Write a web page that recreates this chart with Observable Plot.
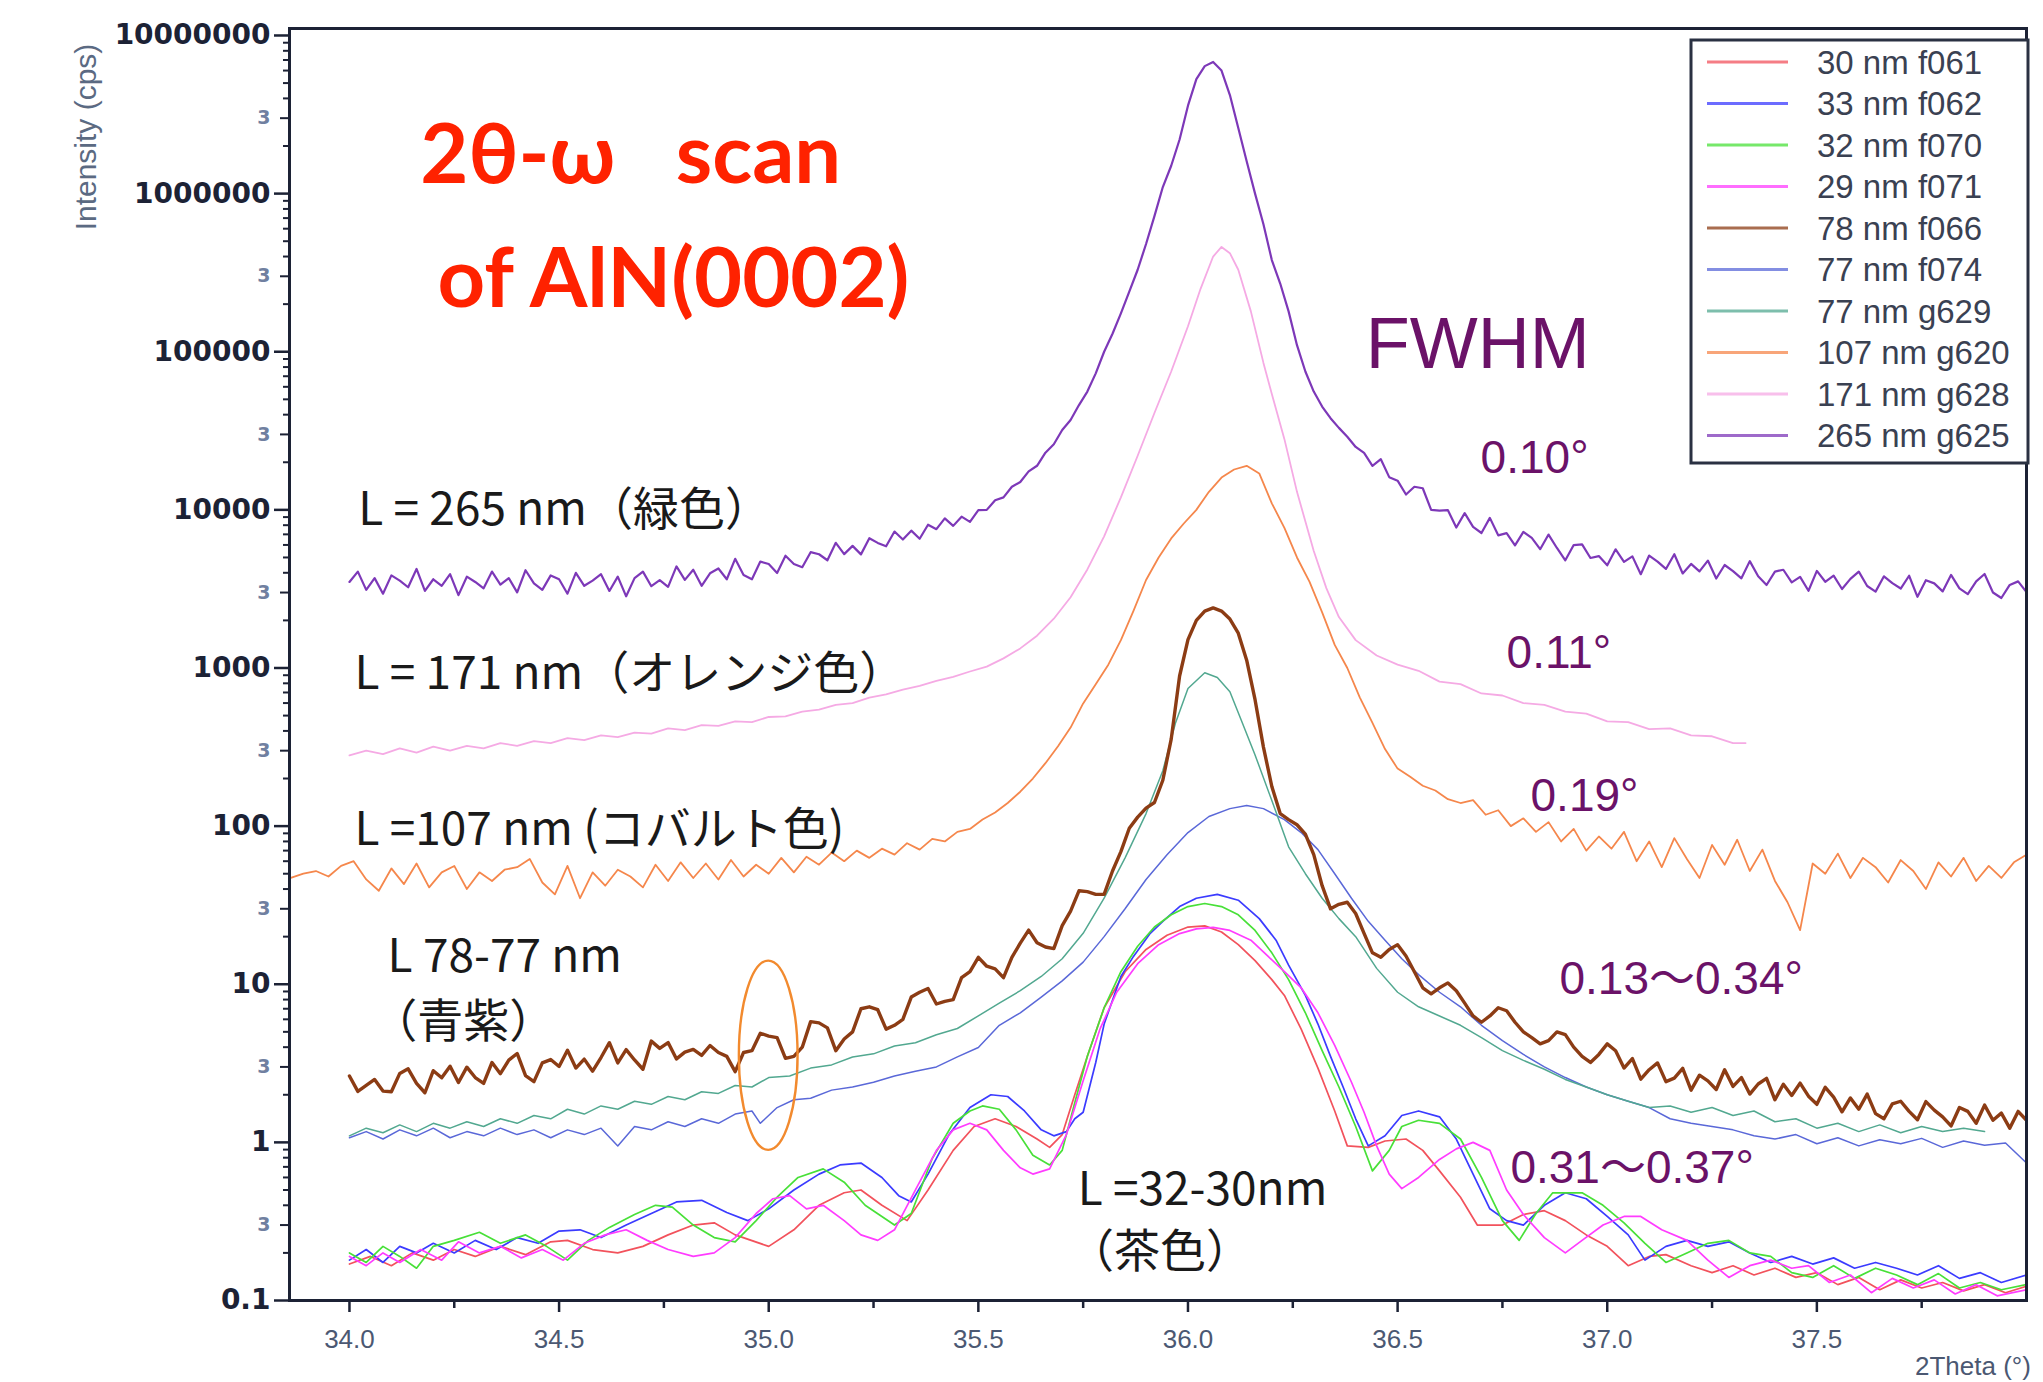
<!DOCTYPE html>
<html><head><meta charset="utf-8">
<script src="https://cdn.jsdelivr.net/npm/d3@7"></script>
<script src="https://cdn.jsdelivr.net/npm/@observablehq/plot@0.6"></script>
<style>
html,body{margin:0;padding:0;background:#fff;}
#chart{width:2043px;height:1382px;}
svg{display:block}
</style></head><body><div id="chart"></div>
<script>
// ---------- series (2θ in degrees, intensity in cps) ----------
const seriesNames = ["30 nm f061","33 nm f062","32 nm f070","29 nm f071","78 nm f066","77 nm f074","77 nm g629","107 nm g620","171 nm g628","265 nm g625"];

const f061 = [[34.00,0.17],[34.05,0.19],[34.10,0.166],[34.15,0.20],[34.20,0.18],[34.25,0.21],[34.30,0.19],[34.36,0.22],[34.42,0.195],[34.48,0.235],[34.52,0.24],[34.58,0.21],[34.64,0.20],[34.70,0.22],[34.76,0.26],[34.82,0.30],[34.87,0.31],[34.92,0.26],[35.00,0.22],[35.06,0.28],[35.12,0.40],[35.18,0.48],[35.22,0.50],[35.27,0.40],[35.33,0.32],[35.38,0.50],[35.44,0.89],[35.49,1.26],[35.54,1.41],[35.59,1.26],[35.64,1.05],[35.67,0.93],[35.70,1.12],[35.73,2.0],[35.76,3.5],[35.80,7.1],[35.85,12],[35.90,16.6],[35.95,20.4],[36.00,23],[36.04,23.4],[36.08,21.4],[36.12,17.8],[36.16,14.1],[36.20,10.7],[36.23,8.5],[36.27,5.2],[36.31,2.95],[36.35,1.58],[36.38,0.95],[36.43,0.93],[36.47,1.02],[36.52,1.05],[36.56,0.89],[36.60,0.66],[36.65,0.45],[36.69,0.30],[36.75,0.30],[36.80,0.35],[36.85,0.37],[36.90,0.32],[36.95,0.26],[37.00,0.22],[37.05,0.166],[37.10,0.19],[37.14,0.195],[37.20,0.166],[37.25,0.15],[37.30,0.166],[37.35,0.145],[37.40,0.16],[37.45,0.14],[37.50,0.15],[37.55,0.126],[37.60,0.14],[37.65,0.117],[37.70,0.135],[37.75,0.12],[37.80,0.13],[37.85,0.115],[37.90,0.126],[37.95,0.112],[38.00,0.123]];

const f062 = [[34.00,0.18],[34.04,0.21],[34.08,0.174],[34.12,0.22],[34.16,0.20],[34.20,0.23],[34.25,0.20],[34.30,0.24],[34.35,0.21],[34.40,0.25],[34.45,0.23],[34.50,0.275],[34.55,0.28],[34.60,0.25],[34.66,0.30],[34.72,0.355],[34.78,0.42],[34.84,0.43],[34.90,0.36],[34.95,0.32],[35.00,0.38],[35.06,0.50],[35.12,0.63],[35.17,0.72],[35.22,0.74],[35.27,0.60],[35.31,0.46],[35.34,0.42],[35.38,0.63],[35.43,1.12],[35.48,1.66],[35.53,2.0],[35.57,1.95],[35.61,1.58],[35.65,1.2],[35.68,1.1],[35.71,1.17],[35.73,1.41],[35.75,1.55],[35.78,3.2],[35.80,5.6],[35.84,11.2],[35.87,15],[35.91,21],[35.94,25],[35.98,31],[36.02,35],[36.07,37],[36.12,34],[36.17,26],[36.21,19],[36.24,13.2],[36.28,8.5],[36.31,5.6],[36.34,3.5],[36.37,2.24],[36.40,1.41],[36.43,0.95],[36.47,1.1],[36.51,1.48],[36.55,1.58],[36.60,1.45],[36.64,1.05],[36.68,0.63],[36.72,0.38],[36.76,0.32],[36.80,0.30],[36.85,0.40],[36.90,0.48],[36.95,0.44],[37.00,0.34],[37.05,0.26],[37.09,0.18],[37.14,0.22],[37.19,0.24],[37.24,0.22],[37.29,0.235],[37.34,0.20],[37.39,0.174],[37.44,0.19],[37.49,0.17],[37.54,0.186],[37.59,0.16],[37.64,0.174],[37.69,0.16],[37.74,0.145],[37.79,0.166],[37.84,0.138],[37.89,0.15],[37.94,0.13],[38.00,0.145]];

const f070 = [[34.00,0.20],[34.04,0.174],[34.08,0.22],[34.12,0.19],[34.16,0.16],[34.20,0.22],[34.25,0.24],[34.31,0.27],[34.36,0.23],[34.42,0.26],[34.47,0.22],[34.52,0.18],[34.57,0.24],[34.62,0.29],[34.68,0.35],[34.73,0.40],[34.77,0.39],[34.82,0.30],[34.87,0.25],[34.92,0.235],[34.97,0.32],[35.02,0.45],[35.07,0.60],[35.13,0.68],[35.18,0.56],[35.23,0.40],[35.30,0.30],[35.34,0.355],[35.39,0.79],[35.44,1.32],[35.48,1.58],[35.51,1.7],[35.55,1.62],[35.59,1.2],[35.63,0.83],[35.67,0.72],[35.70,0.89],[35.73,1.78],[35.76,3.5],[35.80,7.1],[35.84,12],[35.88,17.4],[35.92,23],[35.96,27.5],[36.00,31],[36.04,32.4],[36.08,31],[36.12,27.5],[36.16,21.9],[36.20,15.8],[36.24,10.7],[36.28,6.6],[36.32,3.8],[36.36,2.24],[36.40,1.26],[36.44,0.66],[36.48,0.89],[36.51,1.26],[36.55,1.38],[36.60,1.32],[36.65,1.05],[36.70,0.60],[36.75,0.32],[36.79,0.24],[36.83,0.355],[36.87,0.48],[36.94,0.48],[36.99,0.40],[37.04,0.31],[37.09,0.23],[37.14,0.174],[37.19,0.20],[37.24,0.23],[37.29,0.24],[37.34,0.20],[37.39,0.19],[37.44,0.15],[37.49,0.14],[37.54,0.166],[37.59,0.138],[37.64,0.16],[37.69,0.145],[37.74,0.126],[37.79,0.148],[37.84,0.12],[37.89,0.13],[37.94,0.117],[38.00,0.126]];

const f071 = [[34.00,0.19],[34.04,0.166],[34.08,0.20],[34.12,0.174],[34.17,0.21],[34.22,0.18],[34.26,0.235],[34.31,0.20],[34.36,0.22],[34.41,0.186],[34.46,0.21],[34.51,0.18],[34.56,0.23],[34.61,0.26],[34.66,0.28],[34.71,0.24],[34.76,0.21],[34.82,0.19],[34.87,0.20],[34.92,0.25],[34.97,0.355],[35.01,0.44],[35.05,0.46],[35.09,0.38],[35.13,0.40],[35.18,0.32],[35.22,0.26],[35.26,0.24],[35.30,0.28],[35.35,0.50],[35.40,0.89],[35.44,1.2],[35.48,1.32],[35.52,1.2],[35.56,0.89],[35.60,0.69],[35.63,0.63],[35.67,0.68],[35.71,1.12],[35.75,2.45],[35.79,5.2],[35.83,8.9],[35.88,13.5],[35.93,17.8],[35.98,20.9],[36.02,22.4],[36.06,22.9],[36.10,21.9],[36.15,19],[36.19,15.1],[36.23,12],[36.27,9.5],[36.31,6.6],[36.35,4.1],[36.39,2.4],[36.42,1.55],[36.45,0.95],[36.48,0.63],[36.51,0.51],[36.55,0.60],[36.60,0.78],[36.64,0.91],[36.68,1.0],[36.72,0.89],[36.76,0.50],[36.80,0.35],[36.85,0.25],[36.90,0.20],[36.94,0.24],[36.99,0.30],[37.04,0.34],[37.08,0.34],[37.13,0.28],[37.19,0.24],[37.24,0.18],[37.29,0.14],[37.34,0.166],[37.39,0.18],[37.44,0.16],[37.48,0.166],[37.53,0.13],[37.58,0.145],[37.63,0.112],[37.68,0.138],[37.73,0.12],[37.78,0.135],[37.83,0.11],[37.88,0.126],[37.93,0.107],[38.00,0.117]];

const f066 = [[34.00,2.63],[34.02,2.10],[34.04,2.29],[34.06,2.50],[34.08,2.11],[34.10,2.09],[34.12,2.73],[34.14,2.92],[34.16,2.36],[34.18,2.06],[34.20,2.84],[34.22,2.56],[34.24,3.03],[34.26,2.39],[34.28,2.99],[34.30,2.57],[34.32,2.36],[34.34,3.20],[34.36,2.72],[34.38,3.31],[34.40,3.65],[34.42,2.64],[34.44,2.42],[34.46,3.18],[34.48,3.34],[34.50,3.02],[34.52,3.83],[34.54,2.95],[34.56,3.36],[34.58,2.82],[34.60,3.44],[34.62,4.27],[34.64,3.18],[34.66,3.86],[34.68,3.32],[34.70,2.90],[34.72,4.37],[34.74,3.93],[34.76,4.28],[34.78,3.37],[34.80,3.72],[34.82,3.87],[34.84,3.55],[34.86,4.1],[34.88,3.7],[34.90,3.5],[34.92,2.8],[34.94,3.7],[34.96,3.8],[34.98,4.9],[35.00,4.7],[35.02,4.6],[35.04,3.4],[35.06,3.5],[35.08,4.0],[35.10,5.8],[35.12,5.7],[35.14,5.3],[35.16,3.8],[35.18,4.5],[35.20,5.0],[35.22,7.0],[35.24,7.2],[35.26,6.9],[35.28,5.2],[35.30,5.5],[35.32,6.0],[35.34,8.3],[35.36,8.9],[35.38,9.4],[35.40,7.5],[35.42,7.8],[35.44,8.0],[35.46,11.0],[35.48,12.0],[35.50,14.8],[35.52,13.0],[35.54,12.5],[35.56,11.0],[35.58,14.8],[35.60,18.2],[35.62,22],[35.64,18.3],[35.66,17.2],[35.68,16.8],[35.70,23.5],[35.72,29],[35.74,39],[35.76,38.5],[35.78,37],[35.80,37],[35.82,52],[35.84,69],[35.86,97],[35.88,114],[35.90,130],[35.92,141],[35.94,195],[35.96,355],[35.98,890],[36.00,1510],[36.02,2000],[36.04,2290],[36.06,2400],[36.08,2290],[36.10,2040],[36.12,1660],[36.14,1120],[36.16,630],[36.18,316],[36.20,178],[36.22,120],[36.24,110],[36.26,102],[36.28,89],[36.30,66],[36.32,42],[36.34,30],[36.36,32],[36.38,33],[36.40,28],[36.42,21],[36.44,15.8],[36.46,14.8],[36.48,16.6],[36.50,17.8],[36.52,15.1],[36.54,12.0],[36.56,9.5],[36.58,8.7],[36.60,9.5],[36.62,10.2],[36.64,9.1],[36.66,7.6],[36.68,6.3],[36.70,5.75],[36.72,6.3],[36.74,7.1],[36.76,6.8],[36.78,5.75],[36.80,5.0],[36.82,4.6],[36.84,4.2],[36.86,4.4],[36.88,5.0],[36.90,4.8],[36.92,4.0],[36.94,3.5],[36.96,3.2],[36.98,3.6],[37.00,4.2],[37.02,3.8],[37.04,2.95],[37.06,3.39],[37.08,2.51],[37.10,2.88],[37.12,3.18],[37.14,2.42],[37.16,2.55],[37.18,2.94],[37.20,2.14],[37.22,2.66],[37.24,2.45],[37.26,2.16],[37.28,2.88],[37.30,2.26],[37.32,2.57],[37.34,2.02],[37.36,2.34],[37.38,2.54],[37.40,1.86],[37.42,2.33],[37.44,1.98],[37.46,2.37],[37.48,1.96],[37.50,1.74],[37.52,2.23],[37.54,1.93],[37.56,1.56],[37.58,1.91],[37.60,1.62],[37.62,2.02],[37.64,1.52],[37.66,1.41],[37.68,1.75],[37.70,1.82],[37.72,1.57],[37.74,1.39],[37.76,1.81],[37.78,1.60],[37.80,1.45],[37.82,1.27],[37.84,1.66],[37.86,1.57],[37.88,1.32],[37.90,1.72],[37.92,1.38],[37.94,1.53],[37.96,1.23],[37.98,1.57],[38.00,1.38]];

const f074 = [[34.00,1.07],[34.04,1.17],[34.08,1.05],[34.12,1.2],[34.16,1.1],[34.20,1.23],[34.24,1.07],[34.28,1.17],[34.32,1.1],[34.36,1.23],[34.40,1.12],[34.44,1.2],[34.48,1.07],[34.52,1.2],[34.56,1.12],[34.60,1.23],[34.64,0.95],[34.68,1.26],[34.72,1.2],[34.76,1.35],[34.80,1.26],[34.84,1.41],[34.88,1.32],[34.92,1.51],[34.96,1.58],[34.98,1.32],[35.02,1.66],[35.06,1.86],[35.10,1.9],[35.15,2.14],[35.20,2.24],[35.25,2.4],[35.30,2.63],[35.35,2.82],[35.40,3.0],[35.45,3.47],[35.50,3.98],[35.55,5.5],[35.60,6.6],[35.65,8.3],[35.70,10.5],[35.75,13.8],[35.80,20],[35.85,30],[35.90,46],[35.95,66],[36.00,91],[36.05,115],[36.10,129],[36.14,135],[36.18,129],[36.23,110],[36.27,91],[36.31,71],[36.35,50],[36.39,35],[36.43,25],[36.47,19],[36.51,14.5],[36.55,11.5],[36.60,8.9],[36.65,7.2],[36.70,5.5],[36.75,4.4],[36.80,3.6],[36.85,3.0],[36.90,2.57],[36.95,2.24],[37.00,2.0],[37.05,1.82],[37.10,1.66],[37.15,1.41],[37.20,1.32],[37.25,1.26],[37.30,1.2],[37.35,1.1],[37.40,1.05],[37.45,1.12],[37.50,0.98],[37.55,1.07],[37.60,0.95],[37.65,1.04],[37.70,0.98],[37.75,1.06],[37.80,0.93],[37.85,1.02],[37.90,0.96],[37.95,0.99],[38.00,0.74]];

const g629 = [[34.00,1.10],[34.04,1.23],[34.08,1.15],[34.12,1.29],[34.16,1.17],[34.20,1.32],[34.24,1.23],[34.28,1.35],[34.32,1.26],[34.36,1.41],[34.40,1.32],[34.44,1.48],[34.48,1.41],[34.52,1.62],[34.56,1.51],[34.60,1.70],[34.64,1.62],[34.68,1.82],[34.72,1.74],[34.76,1.95],[34.80,1.86],[34.84,2.09],[34.88,2.04],[34.92,2.29],[34.96,2.24],[35.00,2.57],[35.05,2.63],[35.10,2.95],[35.15,3.09],[35.20,3.47],[35.25,3.63],[35.30,4.07],[35.35,4.27],[35.40,4.79],[35.45,5.25],[35.50,6.31],[35.55,7.6],[35.60,9.1],[35.65,11.2],[35.70,14.5],[35.75,21],[35.80,35],[35.85,63],[35.90,120],[35.94,224],[35.97,447],[36.00,741],[36.04,933],[36.07,871],[36.10,708],[36.13,447],[36.16,282],[36.20,145],[36.24,74],[36.28,50],[36.32,35],[36.36,26],[36.40,20],[36.45,12.6],[36.50,8.9],[36.55,7.2],[36.60,6.3],[36.65,5.5],[36.70,4.6],[36.75,3.8],[36.80,3.3],[36.85,2.9],[36.90,2.5],[36.95,2.24],[37.00,2.0],[37.05,1.82],[37.10,1.66],[37.15,1.70],[37.20,1.55],[37.25,1.66],[37.30,1.48],[37.35,1.58],[37.40,1.35],[37.45,1.41],[37.50,1.23],[37.55,1.32],[37.60,1.17],[37.65,1.29],[37.70,1.15],[37.75,1.26],[37.80,1.17],[37.85,1.23],[37.90,1.17]];

const g620 = [[33.86,47],[33.89,50],[33.92,52],[33.95,48],[33.98,56],[34.01,60],[34.04,46],[34.07,39],[34.10,54],[34.13,43],[34.16,58],[34.19,41],[34.22,51],[34.25,56],[34.28,40],[34.31,51],[34.34,45],[34.37,53],[34.40,55],[34.43,62],[34.46,44],[34.49,37],[34.52,56],[34.55,35],[34.58,51],[34.61,42],[34.64,53],[34.67,48],[34.70,41],[34.73,57],[34.76,45],[34.79,59],[34.82,47],[34.85,58],[34.88,46],[34.91,61],[34.94,48],[34.97,57],[35.00,50],[35.03,63],[35.06,51],[35.09,64],[35.12,57],[35.15,68],[35.18,60],[35.21,70],[35.24,63],[35.27,72],[35.30,66],[35.33,78],[35.36,71],[35.39,83],[35.42,80],[35.45,92],[35.48,96],[35.51,110],[35.54,122],[35.57,140],[35.60,165],[35.63,200],[35.66,250],[35.69,320],[35.72,420],[35.75,597],[35.78,790],[35.81,1050],[35.84,1500],[35.87,2300],[35.90,3600],[35.93,5000],[35.96,6600],[35.99,8200],[36.02,10000],[36.05,13000],[36.08,16000],[36.11,18000],[36.14,19000],[36.17,17000],[36.20,11000],[36.23,7700],[36.26,5000],[36.29,3500],[36.32,2250],[36.35,1400],[36.38,1000],[36.41,650],[36.44,450],[36.47,307],[36.50,231],[36.53,205],[36.56,180],[36.59,168],[36.62,148],[36.65,140],[36.68,146],[36.71,118],[36.74,126],[36.77,100],[36.80,112],[36.83,92],[36.86,106],[36.89,80],[36.92,96],[36.95,70],[36.98,86],[37.01,72],[37.04,92],[37.07,60],[37.10,80],[37.13,55],[37.16,84],[37.19,62],[37.22,47],[37.25,76],[37.28,57],[37.31,82],[37.34,52],[37.37,71],[37.40,45],[37.43,33],[37.46,22],[37.49,58],[37.52,50],[37.55,67],[37.58,47],[37.61,63],[37.64,55],[37.67,44],[37.70,61],[37.73,52],[37.76,40],[37.79,59],[37.82,48],[37.85,63],[37.88,45],[37.91,56],[37.94,47],[37.97,59],[38.00,66]];

const g628 = [[34.00,280],[34.04,300],[34.08,285],[34.12,310],[34.16,292],[34.20,318],[34.24,300],[34.28,322],[34.32,310],[34.36,335],[34.40,322],[34.44,345],[34.48,335],[34.52,360],[34.56,350],[34.60,375],[34.64,365],[34.68,390],[34.72,385],[34.76,415],[34.80,405],[34.84,435],[34.88,430],[34.92,460],[34.96,455],[35.00,490],[35.04,495],[35.08,530],[35.12,545],[35.16,585],[35.20,600],[35.24,650],[35.28,680],[35.32,730],[35.36,770],[35.40,830],[35.44,880],[35.48,950],[35.52,1020],[35.56,1150],[35.60,1330],[35.64,1600],[35.68,2050],[35.72,2800],[35.76,4200],[35.80,6800],[35.84,12000],[35.88,22000],[35.92,41000],[35.96,75000],[36.00,145000],[36.03,250000],[36.06,400000],[36.08,460000],[36.10,420000],[36.12,330000],[36.15,180000],[36.18,85000],[36.20,54000],[36.23,28000],[36.26,13000],[36.30,5500],[36.33,3200],[36.36,2100],[36.40,1500],[36.45,1200],[36.50,1050],[36.55,960],[36.60,820],[36.65,790],[36.70,690],[36.75,670],[36.80,600],[36.85,585],[36.90,530],[36.95,515],[37.00,460],[37.05,455],[37.10,410],[37.15,415],[37.20,375],[37.25,370],[37.30,335],[37.33,335]];

const g625 = [[34.00,3500],[34.02,4070],[34.04,3120],[34.06,3700],[34.08,2950],[34.10,3850],[34.12,3570],[34.14,3240],[34.16,4230],[34.18,3070],[34.20,3640],[34.22,3310],[34.24,3920],[34.26,2890],[34.28,3780],[34.30,3500],[34.32,3190],[34.34,4070],[34.36,3370],[34.38,3700],[34.40,3010],[34.42,4150],[34.44,3430],[34.46,3120],[34.48,3850],[34.50,3640],[34.52,2950],[34.54,4000],[34.56,3310],[34.58,3570],[34.60,3920],[34.62,3070],[34.64,3780],[34.66,2840],[34.68,3700],[34.70,4070],[34.72,3290],[34.74,3600],[34.76,3260],[34.78,4390],[34.80,3610],[34.82,4180],[34.84,3310],[34.86,3970],[34.88,4260],[34.90,3640],[34.92,4900],[34.94,3870],[34.96,3640],[34.98,4710],[35.00,4550],[35.02,3990],[35.04,5130],[35.06,4550],[35.08,4340],[35.10,5400],[35.12,5240],[35.14,4800],[35.16,6190],[35.18,5250],[35.20,5920],[35.22,5230],[35.24,6620],[35.26,6180],[35.28,5880],[35.30,7290],[35.32,6490],[35.34,7390],[35.36,6570],[35.38,8050],[35.40,7550],[35.42,8840],[35.44,7920],[35.46,9060],[35.48,8400],[35.50,9950],[35.52,10000],[35.54,11500],[35.56,12000],[35.58,14000],[35.60,15000],[35.62,17500],[35.64,19000],[35.66,23000],[35.68,26000],[35.70,32000],[35.72,37000],[35.74,46000],[35.76,56000],[35.78,73000],[35.80,100000],[35.82,130000],[35.84,175000],[35.86,240000],[35.88,330000],[35.90,480000],[35.92,720000],[35.94,1100000],[35.96,1500000],[35.98,2200000],[36.00,3600000],[36.02,5300000],[36.04,6400000],[36.06,6800000],[36.08,6000000],[36.10,4200000],[36.12,2600000],[36.14,1600000],[36.16,1000000],[36.18,640000],[36.20,380000],[36.22,270000],[36.24,180000],[36.26,110000],[36.28,75000],[36.30,56000],[36.32,45000],[36.34,38000],[36.36,33000],[36.38,29000],[36.40,25000],[36.42,22900],[36.44,19000],[36.46,20900],[36.48,16100],[36.50,15300],[36.52,12500],[36.54,14000],[36.56,13700],[36.58,10000],[36.60,9900],[36.62,9950],[36.64,7730],[36.66,9530],[36.68,7800],[36.70,7140],[36.72,8900],[36.74,6900],[36.76,7130],[36.78,5960],[36.80,7250],[36.82,6650],[36.84,5640],[36.86,6980],[36.88,5740],[36.90,4800],[36.92,5990],[36.94,6050],[36.96,4960],[36.98,5100],[37.00,4460],[37.02,5630],[37.04,4690],[37.06,5080],[37.08,3920],[37.10,5140],[37.12,4710],[37.14,4230],[37.16,5240],[37.18,3960],[37.20,4550],[37.22,4080],[37.24,4780],[37.26,3680],[37.28,4480],[37.30,4100],[37.32,3690],[37.34,4740],[37.36,3800],[37.38,3350],[37.40,4070],[37.42,4180],[37.44,3480],[37.46,3770],[37.48,3080],[37.50,4110],[37.52,3510],[37.54,3840],[37.56,3160],[37.58,3660],[37.60,4070],[37.62,3300],[37.64,3040],[37.66,3800],[37.68,3440],[37.70,3180],[37.72,3830],[37.74,2820],[37.76,3590],[37.78,3430],[37.80,3050],[37.82,3880],[37.84,3190],[37.86,2930],[37.88,3530],[37.90,3930],[37.92,3000],[37.94,2770],[37.96,3350],[37.98,3530],[38.00,3020]];

const seriesData = [f061, f062, f070, f071, f066, f074, g629, g620, g628, g625];

// ---------- tick values ----------
const yMajorTicks = [0.1, 1, 10, 100, 1000, 10000, 100000, 1000000, 10000000];
const yThreeTicks = [0.3, 3, 30, 300, 3000, 30000, 300000, 3000000];
const yMinorMultipliers = [2, 4, 5, 6, 7, 8, 9];
const xMajorTicks = [34.0, 34.5, 35.0, 35.5, 36.0, 36.5, 37.0, 37.5];
const xMinorTicks = [34.25, 34.75, 35.25, 35.75, 36.25, 36.75, 37.25, 37.75];

// ---------- annotations (anchored in data coordinates) ----------
const notes = [
  {x: 34.169, y: 1.17e6, text: "2θ-ω\u00a0\u00a0\u00a0scan", kind: "title"},
  {x: 34.210, y: 1.92e5, text: "of AlN(0002)", kind: "title"},
  {x: 36.424, y: 7.9e4, text: "FWHM", kind: "head"},
  {x: 36.698, y: 1.71e4, text: "0.10°", kind: "fwhm"},
  {x: 36.760, y: 1.0e3, text: "0.11°", kind: "fwhm"},
  {x: 36.817, y: 125, text: "0.19°", kind: "fwhm"},
  {x: 36.886, y: 8.7, text: "0.13～0.34°", kind: "fwhm"},
  {x: 36.769, y: 0.557, text: "0.31～0.37°", kind: "fwhm"},
  {x: 34.021, y: 8.0e3, text: "L = 265 nm（緑色）", kind: "label"},
  {x: 34.012, y: 740, text: "L = 171 nm（オレンジ色）", kind: "label"},
  {x: 34.012, y: 76, text: "L =107 nm (コバルト色)", kind: "label"},
  {x: 34.091, y: 12.0, text: "L 78-77 nm", kind: "label"},
  {x: 34.052, y: 4.67, text: "（青紫）", kind: "label"},
  {x: 35.737, y: 0.40, text: "L =32-30nm", kind: "label"},
  {x: 35.714, y: 0.164, text: "（茶色）", kind: "label"}
];
const highlight = {x: 35.0, x0: 34.93, x1: 35.07, y0: 0.89, y1: 14};

// ---------- styles ----------
const seriesColors = ["#f2525c","#3b3bff","#48e038","#ff3cff","#8c3c14","#5a68d8","#52a890","#f5874c","#f5aae4","#7d38b8"];
const seriesWidths = [1.7,1.7,1.7,1.7,3.4,1.5,1.5,1.8,1.8,2.2];
const drawOrder = [5,6,0,1,2,3,4,7,8,9];
const noteStyles = {
  title: {fontSize: 83, fontWeight: "bold", fill: "#ff2200", fontFamily: "Lato, 'Open Sans', sans-serif"},
  head: {fontSize: 72, fill: "#6b1268", fontFamily: "'Liberation Sans', Arial, sans-serif"},
  fwhm: {fontSize: 46, fill: "#6b1268", fontFamily: "'Liberation Sans', Arial, 'Noto Sans CJK JP', sans-serif"},
  label: {fontSize: 46, fill: "#1a1a1a", fontFamily: "'Noto Sans CJK JP', sans-serif"}
};
const axisInk = "#1c2235";

const yMinorTicks = [];
for (let k = -1; k <= 6; k++) for (const m of yMinorMultipliers) yMinorTicks.push(m * Math.pow(10, k));

const lineMarks = drawOrder.map(i => Plot.line(seriesData[i], {
  x: d => d[0], y: d => d[1], stroke: seriesColors[i], strokeWidth: seriesWidths[i],
  strokeLinejoin: "round", clip: true
}));

const noteMarks = Object.entries(noteStyles).map(([kind, st]) =>
  Plot.text(notes.filter(n => n.kind === kind), {x: "x", y: "y", text: "text", textAnchor: "start", lineAnchor: "bottom", ...st})
);

function highlightMark(index, scales) {
  const xa = scales.x(highlight.x0), xb = scales.x(highlight.x1);
  const ya = scales.y(highlight.y0), yb = scales.y(highlight.y1);
  const g = d3.create("svg:g");
  g.append("ellipse")
    .attr("cx", scales.x(highlight.x)).attr("cy", (ya + yb) / 2)
    .attr("rx", Math.abs(xb - xa) / 2).attr("ry", Math.abs(ya - yb) / 2)
    .attr("fill", "none").attr("stroke", "#f28a2e").attr("stroke-width", 2.4);
  return g.node();
}

const chart = Plot.plot({
  width: 2043, height: 1382,
  marginLeft: 289, marginRight: 17, marginTop: 28, marginBottom: 82,
  x: {domain: [33.857, 38.0]},
  y: {type: "log", domain: [0.1, 1.107e7]},
  style: {background: "#fff", fontFamily: "'Liberation Sans', Arial, sans-serif", overflow: "visible"},
  marks: [
    ...lineMarks,
    highlightMark,
    ...noteMarks,
    Plot.axisY(yMinorTicks, {tickSize: 6, fill: "none", stroke: axisInk, strokeWidth: 2, label: null}),
    Plot.axisY(yThreeTicks, {tickSize: 9, tickPadding: 10, tickFormat: () => "3", fontSize: 19, fontWeight: "bold", fontFamily: "'DejaVu Sans', sans-serif", fill: "#7080a0", stroke: axisInk, strokeWidth: 2, label: null}),
    Plot.axisY(yMajorTicks, {tickSize: 15, tickPadding: 4, tickFormat: d => d < 1 ? "0.1" : d3.format("d")(d), fontSize: 28, fontWeight: "bold", fontFamily: "'DejaVu Sans', sans-serif", fill: "#1c2235", stroke: axisInk, strokeWidth: 2.5, label: null}),
    Plot.axisX(xMinorTicks, {tickSize: 8, fill: "none", stroke: axisInk, strokeWidth: 2.5, label: null}),
    Plot.axisX(xMajorTicks, {tickSize: 12, tickPadding: 17, tickFormat: d3.format(".1f"), fontSize: 26, fill: "#4b5872", stroke: axisInk, strokeWidth: 2.5, label: null}),
    Plot.frame({stroke: axisInk, strokeWidth: 3})
  ]
});

// ---------- legend and axis titles ----------
const svg = d3.select(chart);
const lg = svg.append("g").attr("text-anchor", "start");
lg.append("rect").attr("x", 1691).attr("y", 40).attr("width", 337).attr("height", 423)
  .attr("fill", "#fff").attr("stroke", "#2a3142").attr("stroke-width", 3);
seriesNames.forEach((name, i) => {
  const cy = 62 + i * 41.5;
  lg.append("line").attr("x1", 1707).attr("x2", 1788).attr("y1", cy).attr("y2", cy)
    .attr("stroke", seriesColors[i]).attr("stroke-width", 3).attr("stroke-opacity", 0.75);
  lg.append("text").attr("x", 1817).attr("y", cy).attr("dy", "0.36em")
    .attr("text-anchor", "start").attr("font-size", 33).attr("fill", "#3a4152")
    .attr("font-family", "'Liberation Sans', Arial, sans-serif").text(name);
});
svg.append("text").attr("transform", "translate(96,137) rotate(-90)")
  .attr("text-anchor", "middle").attr("font-size", 30).attr("fill", "#5b6a82")
  .attr("font-family", "'Liberation Sans', Arial, sans-serif").text("Intensity (cps)");
svg.append("text").attr("x", 1915).attr("y", 1375).attr("text-anchor", "start")
  .attr("font-size", 26).attr("fill", "#4b5872")
  .attr("font-family", "'Liberation Sans', Arial, sans-serif").text("2Theta (°)");

document.getElementById("chart").appendChild(chart);
</script></body></html>
